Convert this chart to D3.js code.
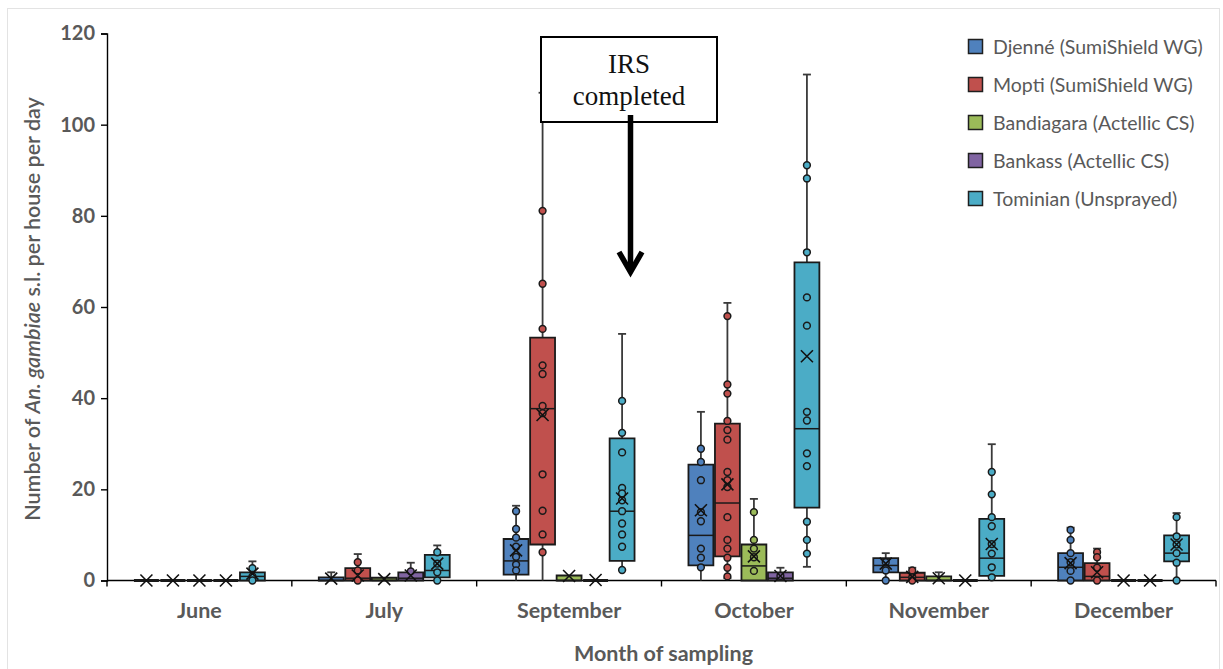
<!DOCTYPE html>
<html>
<head>
<meta charset="utf-8">
<script src="https://cdn.jsdelivr.net/npm/d3@7"></script>
<style>
  html, body { margin: 0; padding: 0; background: #fff; }
  svg { display: block; }
  text { font-family: Lato, "Open Sans", sans-serif; }
</style>
</head>
<body>
<svg id="chart" width="1223" height="669"></svg>
<script>
// Months sampled and study sites
const months = ["June", "July", "September", "October", "November", "December"];
const sites = [
  "Djenné (SumiShield WG)",
  "Mopti (SumiShield WG)",
  "Bandiagara (Actellic CS)",
  "Bankass (Actellic CS)",
  "Tominian (Unsprayed)"
];
const siteColors = ["#4F81BD", "#C0504D", "#9BBB59", "#8064A2", "#4BACC6"];
const yTicks = [0, 20, 40, 60, 80, 100, 120];

// Box statistics per month: [whisker low, Q1, median, Q3, whisker high, mean]
const djenneStats = [
  [0, 0, 0, 0, 0, 0],
  [0, 0, 0, 0.7, 1.8, 0.4],
  [0, 1.3, 4.3, 9.1, 16.4, 6.6],
  [0, 3.3, 9.9, 25.4, 37, 15.4],
  [0, 1.8, 3.3, 4.9, 6, 3.7],
  [0, 0, 2.9, 6, 11.6, 3.8]
];
const moptiStats = [
  [0, 0, 0, 0, 0, 0],
  [0, 0, 0.5, 2.7, 5.8, 1.1],
  [0, 7.9, 37.7, 53.3, 107, 36.3],
  [0.5, 5.3, 17, 34.4, 60.9, 21.1],
  [0, 0, 0.7, 1.7, 2.8, 0.8],
  [0, 0, 0.9, 3.8, 7, 1.8]
];
const bandiagaraStats = [
  [0, 0, 0, 0, 0, 0],
  [0, 0, 0, 0.6, 0.6, 0.3],
  [0, 0, 0, 1.1, 1.1, 1.0],
  [0, 0, 3.2, 7.9, 17.9, 5.3],
  [0, 0, 0, 0.9, 1.8, 0.5],
  [0, 0, 0, 0, 0, 0]
];
const bankassStats = [
  [0, 0, 0, 0, 0, 0],
  [0, 0, 0.5, 1.8, 3.9, 1.1],
  [0, 0, 0, 0, 0, 0.1],
  [0, 0, 0.5, 1.8, 2.8, 1.0],
  [0, 0, 0, 0, 0, 0],
  [0, 0, 0, 0, 0, 0]
];
const tominianStats = [
  [0, 0, 0.9, 1.8, 4.2, 1.5],
  [0, 0.7, 2.2, 5.6, 7.7, 3.7],
  [2.3, 4.3, 15.2, 31.2, 54.1, 18],
  [3, 16, 33.3, 69.8, 111, 49.2],
  [0, 1, 4.9, 13.5, 29.9, 8],
  [0, 4.2, 6, 9.9, 14.8, 7.9]
];

// Individual house counts shown as points
const djennePoints = [
  [], [],
  [15.2, 11.3, 9.4, 7.4, 5.2, 3.5, 2.2],
  [28.9, 26, 22, 15, 13, 7, 5, 2.9],
  [4, 2.2, 0],
  [11.1, 8.9, 6, 4, 2.1, 0]
];
const moptiPoints = [
  [],
  [4.0, 2.2, 0],
  [81.1, 65.1, 55.2, 47.2, 45.3, 38.3, 36.7, 23.3, 15.3, 10.1, 6.2],
  [58, 43, 41, 35, 33, 30.9, 23.8, 22, 20.5, 13.9, 8.9, 7, 5, 2.8, 0.9],
  [2.2, 0.7, 0],
  [6.2, 5.1, 2.8, 0]
];
const bandiagaraPoints = [
  [], [], [],
  [15, 8.9, 7, 5.1, 2.1],
  [], []
];
const bankassPoints = [
  [], [2], [], [1], [], []
];
const tominianPoints = [
  [2.7, 0.9, 0],
  [6.2, 3.7, 1.8, 0],
  [39.4, 32.4, 28.1, 20.3, 19.1, 17.6, 15.2, 12.5, 10.1, 7.4, 2.3],
  [91.1, 88.2, 72, 62.1, 55.9, 37, 35.1, 27.9, 25.1, 12.9, 8.9, 5.9],
  [23.8, 18.9, 13.9, 11.9, 8, 5.9, 2.9, 0.7],
  [13.9, 9.7, 7.9, 6, 3.9, 0]
];

const allStats = [djenneStats, moptiStats, bandiagaraStats, bankassStats, tominianStats];
const allPoints = [djennePoints, moptiPoints, bandiagaraPoints, bankassPoints, tominianPoints];

const svg = d3.select("#chart");
const textGrey = "#595959";
const boxStroke = "#1a1a1a";

// faint outer frame of the chart area
svg.append("rect")
  .attr("x", 7.5).attr("y", 8.5)
  .attr("width", 1212).attr("height", 680)
  .attr("fill", "none").attr("stroke", "#e3e3e3").attr("stroke-width", 1);

const plotLeft = 107, plotRight = 1216, plotTop = 33.5, plotBottom = 580.5;

const x = d3.scaleBand().domain(months).range([plotLeft, plotRight]).paddingInner(0).paddingOuter(0);
const xs = d3.scaleBand().domain(sites).range([0, x.bandwidth()])
  .paddingInner(0.06).paddingOuter(1.017);
const y = d3.scaleLinear().domain([0, 120]).range([plotBottom, plotTop]);

// Y axis
const yAxis = svg.append("g")
  .attr("transform", `translate(${plotLeft},0)`)
  .call(d3.axisLeft(y).tickValues(yTicks).tickSize(6).tickPadding(6));
yAxis.select(".domain").attr("stroke", "#000").attr("stroke-width", 1.4);
yAxis.selectAll(".tick line").attr("stroke", "#000").attr("stroke-width", 1.4);
yAxis.selectAll(".tick text")
  .attr("fill", textGrey).attr("font-size", 20).attr("font-weight", 700)
  .style("font-family", "Lato, sans-serif");

// X axis: month labels centred in each band, ticks on band boundaries
const xAxis = svg.append("g")
  .attr("transform", `translate(0,${plotBottom})`)
  .call(d3.axisBottom(x).tickSize(0).tickPadding(22));
xAxis.select(".domain").remove();
xAxis.selectAll(".tick text")
  .attr("fill", textGrey).attr("font-size", 21.5).attr("font-weight", 700)
  .style("font-family", "Lato, sans-serif");

const boundaries = months.map(m => x(m)).concat([x(months[months.length - 1]) + x.bandwidth()]);
svg.append("line")
  .attr("x1", plotLeft).attr("x2", plotRight).attr("y1", plotBottom).attr("y2", plotBottom)
  .attr("stroke", "#000").attr("stroke-width", 1.4);
svg.selectAll(".xb").data(boundaries).enter().append("line")
  .attr("class", "xb")
  .attr("x1", d => d).attr("x2", d => d)
  .attr("y1", plotBottom).attr("y2", plotBottom + 6)
  .attr("stroke", "#000").attr("stroke-width", 1.4);

// Axis titles
svg.append("text")
  .attr("x", (plotLeft + plotRight) / 2 + 2).attr("y", 661)
  .attr("text-anchor", "middle")
  .attr("fill", textGrey).attr("font-size", 21.5).attr("font-weight", 700)
  .text("Month of sampling");

const yTitle = svg.append("text")
  .attr("transform", `translate(40,${(plotTop + plotBottom) / 2 + 2}) rotate(-90)`)
  .attr("text-anchor", "middle")
  .attr("fill", textGrey).attr("font-size", 21.5).attr("font-weight", 600);
yTitle.append("tspan").text("Number of ");
yTitle.append("tspan").attr("font-style", "italic").text("An. gambiae");
yTitle.append("tspan").text(" s.l. per house per day");

// Box plots
const plot = svg.append("g");
sites.forEach((site, si) => {
  const color = siteColors[si];
  months.forEach((month, mi) => {
    const [lo, q1, med, q3, hi, mean] = allStats[si][mi];
    const x0 = x(month) + xs(site);
    const w = xs.bandwidth();
    const cx = x0 + w / 2;
    const g = plot.append("g");

    // whiskers
    const whiskerColor = "#3a3a3a";
    if (q1 > lo) {
      g.append("line").attr("x1", cx).attr("x2", cx).attr("y1", y(lo)).attr("y2", y(q1))
        .attr("stroke", whiskerColor).attr("stroke-width", 1.8);
    }
    if (hi > q3) {
      g.append("line").attr("x1", cx).attr("x2", cx).attr("y1", y(q3)).attr("y2", y(hi))
        .attr("stroke", whiskerColor).attr("stroke-width", 1.8);
      g.append("line").attr("x1", cx - 4).attr("x2", cx + 4).attr("y1", y(hi)).attr("y2", y(hi))
        .attr("stroke", whiskerColor).attr("stroke-width", 1.8);
    }
    if (lo > 0 && q1 > lo) {
      g.append("line").attr("x1", cx - 4).attr("x2", cx + 4).attr("y1", y(lo)).attr("y2", y(lo))
        .attr("stroke", whiskerColor).attr("stroke-width", 1.8);
    }

    // box (drawn as a path so that flat boxes still show their outline)
    const yt = y(q3), yb = y(q1);
    const flat = yb - yt < 1;
    g.append("path")
      .attr("d", `M${x0},${yb}V${yt}H${x0 + w}V${yb}Z`)
      .attr("fill", color).attr("stroke", boxStroke).attr("stroke-width", flat ? 3 : 1.8);
    g.append("line").attr("x1", x0).attr("x2", x0 + w).attr("y1", y(med)).attr("y2", y(med))
      .attr("stroke", boxStroke).attr("stroke-width", 1.5);

    // individual points
    g.selectAll("circle").data(allPoints[si][mi]).enter().append("circle")
      .attr("cx", cx).attr("cy", d => y(d)).attr("r", 3.4)
      .attr("fill", color).attr("stroke", boxStroke).attr("stroke-width", 1.5);

    // mean marker
    const ym = y(mean), s = 6;
    g.append("path")
      .attr("d", `M${cx - s},${ym - s}L${cx + s},${ym + s}M${cx - s},${ym + s}L${cx + s},${ym - s}`)
      .attr("stroke", "#111").attr("stroke-width", 1.6).attr("fill", "none");
  });
});

// Legend
const legend = svg.append("g").attr("transform", "translate(968,0)");
sites.forEach((site, i) => {
  const cy = 47 + i * 38;
  legend.append("rect")
    .attr("x", 0.5).attr("y", cy - 7.5).attr("width", 14).attr("height", 14)
    .attr("fill", siteColors[i]).attr("stroke", "#1f1f1f").attr("stroke-width", 1.5);
  legend.append("text")
    .attr("x", 25).attr("y", cy).attr("dy", "0.35em")
    .attr("fill", textGrey).attr("font-size", 19.5)
    .text(site);
});

// IRS annotation with arrow
const ann = svg.append("g");
ann.append("rect")
  .attr("x", 541).attr("y", 37).attr("width", 176).attr("height", 85)
  .attr("fill", "#fff").attr("stroke", "#000").attr("stroke-width", 2);
ann.append("text")
  .attr("x", 629).attr("y", 73).attr("text-anchor", "middle")
  .attr("font-size", 27).attr("fill", "#111")
  .style("font-family", "'Liberation Serif', 'DejaVu Serif', serif")
  .text("IRS");
ann.append("text")
  .attr("x", 629).attr("y", 105).attr("text-anchor", "middle")
  .attr("font-size", 27).attr("fill", "#111")
  .style("font-family", "'Liberation Serif', 'DejaVu Serif', serif")
  .text("completed");
ann.append("line")
  .attr("x1", 630.5).attr("x2", 630.5).attr("y1", 115).attr("y2", 271)
  .attr("stroke", "#000").attr("stroke-width", 5.5);
ann.append("path")
  .attr("d", "M619,252L630.5,272L642,252")
  .attr("fill", "none").attr("stroke", "#000").attr("stroke-width", 5.5)
  .attr("stroke-linejoin", "miter").attr("stroke-linecap", "butt");
</script>
</body>
</html>
